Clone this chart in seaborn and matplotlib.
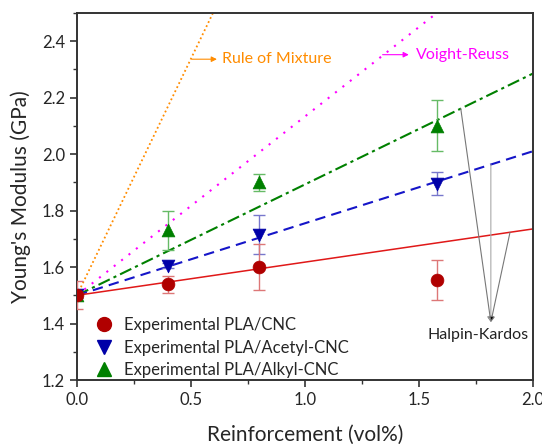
import matplotlib
matplotlib.use("Agg")
import matplotlib.pyplot as plt
import numpy as np
import pandas as pd
import seaborn as sns

# ── data ──────────────────────────────────────────────────────────────────────
vol = [0.0, 0.4, 0.8, 1.58]

cnc_mod = [1.50, 1.54, 1.60, 1.555]
cnc_err = [0.05, 0.03, 0.08, 0.07]

acetyl_mod = [1.50, 1.605, 1.715, 1.895]
acetyl_err = [0.01, 0.01, 0.07, 0.04]

alkyl_mod = [1.50, 1.73, 1.90, 2.10]
alkyl_err = [0.01, 0.07, 0.03, 0.09]

# model lines (straight, from x=0 to x=2)
model_x = [0.0, 2.0]
rule_of_mixture = [1.50, 4.85]
voight_reuss = [1.50, 2.766]
hk_cnc = [1.50, 1.735]
hk_acetyl = [1.50, 2.01]
hk_alkyl = [1.50, 2.285]

series_labels = ["Experimental PLA/CNC", "Experimental PLA/Acetyl-CNC",
                 "Experimental PLA/Alkyl-CNC"]

# ── style ────────────────────────────────────────────────────────────────────
sns.set_style("ticks")
plt.rcParams["font.family"] = ["Lato", "DejaVu Sans"]
plt.rcParams["xtick.direction"] = "out"
plt.rcParams["ytick.direction"] = "out"

fig = plt.figure(figsize=(5.42, 4.44), dpi=100)
ax = fig.add_axes([0.142, 0.144, 0.841, 0.827])

# model predictions
sns.lineplot(x=model_x, y=rule_of_mixture, ax=ax, color="#FF8C00", linestyle=(0, (1, 1.5)), linewidth=1.3)
sns.lineplot(x=model_x, y=voight_reuss, ax=ax, color="#FF00FF", linestyle=(0, (1, 3.5)), linewidth=1.5)
sns.lineplot(x=model_x, y=hk_alkyl, ax=ax, color="#008000", linestyle=(0, (6, 2, 1.5, 2)), linewidth=1.5)
sns.lineplot(x=model_x, y=hk_acetyl, ax=ax, color="#1515C8", linestyle=(0, (5, 3)), linewidth=1.5)
sns.lineplot(x=model_x, y=hk_cnc, ax=ax, color="#E01818", linewidth=1.1)

# experimental points with error bars
exp = [
    (alkyl_mod, alkyl_err, "^", "#008000", "#66BB66", series_labels[2]),
    (acetyl_mod, acetyl_err, "v", "#0000A8", "#7777CC", series_labels[1]),
    (cnc_mod, cnc_err, "o", "#B00000", "#DD7777", series_labels[0]),
]
handles = {}
for i, (mod, err, mk, col, ecol, lab) in enumerate(exp):
    ax.errorbar(vol, mod, yerr=err, fmt="none", ecolor=ecol, elinewidth=1.0,
                capsize=4, capthick=1.0, zorder=3 + i)
    df = pd.DataFrame({"vol": vol, "mod": mod})
    sns.scatterplot(data=df, x="vol", y="mod", ax=ax, marker=mk, color=col,
                    s=85, edgecolor=col, linewidth=0.5, zorder=4 + i)
    handles[lab] = plt.Line2D([], [], marker=mk, color=col, linestyle="none", markersize=10)

ax.legend([handles[l] for l in series_labels], series_labels, loc="lower left",
          bbox_to_anchor=(0.0, -0.035), frameon=False, fontsize=12, handletextpad=0.45,
          labelspacing=0.38, handlelength=1.5)

# annotations: short arrows from the model line towards its label
arrow_kw = dict(arrowstyle="-|>", lw=0.8, shrinkA=0, shrinkB=0, mutation_scale=8)
ax.annotate("", xy=(0.614, 2.336), xytext=(0.504, 2.336),
            arrowprops=dict(color="#FF8C00", **arrow_kw))
ax.text(0.636, 2.336, "Rule of Mixture", color="#FF8C00", fontsize=11.5, va="center")
ax.annotate("", xy=(1.456, 2.352), xytext=(1.341, 2.352),
            arrowprops=dict(color="#FF00FF", **arrow_kw))
ax.text(1.487, 2.352, "Voight-Reuss", color="#FF00FF", fontsize=11.5, va="center")

hk_tip = (1.816, 1.405)
hk_starts = [(1.684, 2.161), (1.816, 1.963), (1.90, 1.723)]
hk_cols = ["#777777", "#AAAAAA", "#777777"]
for start, c in zip(hk_starts, hk_cols):
    ax.annotate("", xy=hk_tip, xytext=start,
                arrowprops=dict(arrowstyle="-|>", lw=0.8, shrinkA=0, shrinkB=0,
                                mutation_scale=8, ec=c, fc="black"))
ax.text(1.76, 1.36, "Halpin-Kardos", ha="center", va="center", fontsize=11.5, color="#222222")

# axes
ax.set_xlim(0, 2.0)
ax.set_ylim(1.2, 2.5)
ax.set_xticks([0.0, 0.5, 1.0, 1.5, 2.0])
ax.set_xticks(np.arange(0, 2.01, 0.25), minor=True)
ax.set_yticks([1.2, 1.4, 1.6, 1.8, 2.0, 2.2, 2.4])
ax.set_yticks(np.arange(1.2, 2.51, 0.1), minor=True)
ax.set_xticklabels(["0.0", "0.5", "1.0", "1.5", "2.0"])
ax.set_yticklabels(["1.2", "1.4", "1.6", "1.8", "2.0", "2.2", "2.4"])
ax.tick_params(which="major", length=5, width=1.2, labelsize=12, color="#333333")
ax.tick_params(which="minor", length=3, width=1.0, color="#333333")
for s in ax.spines.values():
    s.set_linewidth(1.4)
    s.set_color("#333333")

ax.set_xlabel("Reinforcement (vol%)", fontsize=15, labelpad=12)
ax.set_ylabel("Young's Modulus (GPa)", fontsize=15, labelpad=8)

fig.savefig("out.png", dpi=100)
